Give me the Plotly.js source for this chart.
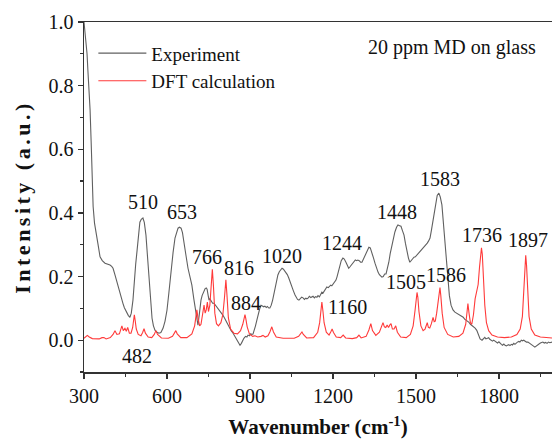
<!DOCTYPE html>
<html>
<head>
<meta charset="utf-8">
<script src="https://cdn.plot.ly/plotly-3.0.1.min.js"></script>
<style>
html,body{margin:0;padding:0;background:#fff;overflow:hidden}
.ytitle{letter-spacing:3.5px}
</style>
</head>
<body>
<div id="chart" style="width:552px;height:440px"></div>
<script>
// Experiment spectrum
const expX = [
  300,303,307,311,314,318,322,326,329,333,
  338,343,350,358,366,376,385,394,400,405,
  412,418,423,430,436,441,446,451,455,460,
  466,471,477,482,487,492,497,502,507,513,
  518,524,529,535,540,546,551,557,564,571,
  578,586,593,600,607,614,622,629,635,640,
  645,651,656,661,668,676,683,690,697,705,
  709,712,716,720,723,727,731,734,738,742,
  745,749,752,755,760,765,770,777,784,790,
  796,802,808,814,820,826,832,839,846,853,
  858,864,869,874,878,884,889,893,898,903,
  907,911,916,920,925,930,935,940,945,950,
  954,959,963,968,972,977,982,987,992,996,
  1001,1006,1011,1016,1021,1026,1030,1035,1040,1045,
  1051,1057,1063,1068,1072,1077,1082,1087,1092,1097,
  1102,1106,1110,1115,1120,1124,1128,1133,1137,1142,
  1146,1151,1156,1160,1164,1169,1173,1178,1183,1188,
  1192,1196,1201,1205,1211,1215,1220,1225,1230,1236,
  1241,1247,1252,1257,1261,1266,1271,1276,1281,1286,
  1290,1295,1300,1305,1310,1315,1319,1325,1330,1335,
  1341,1346,1352,1357,1363,1368,1373,1377,1382,1387,
  1392,1397,1402,1407,1413,1418,1424,1430,1435,1441,
  1446,1451,1457,1462,1467,1473,1478,1483,1488,1493,
  1498,1502,1507,1512,1517,1522,1527,1531,1536,1541,
  1546,1551,1556,1561,1566,1572,1577,1583,1588,1594,
  1599,1605,1610,1616,1621,1627,1634,1641,1648,1654,
  1659,1665,1671,1676,1681,1687,1692,1697,1702,1708,
  1714,1720,1726,1732,1739,1745,1749,1753,1758,1763,
  1767,1772,1777,1781,1786,1791,1795,1800,1804,1809,
  1813,1818,1822,1827,1831,1836,1840,1845,1849,1854,
  1858,1863,1867,1872,1876,1881,1885,1890,1895,1900,
  1905,1910,1914,1919,1924,1930,1935,1940,1945,1950,
  1955,1959,1964,1969,1974,1979,1984,1988,1992];
const expY = [
  1.000,0.975,0.943,0.900,0.849,0.790,0.723,0.620,0.503,0.420,
  0.368,0.346,0.305,0.262,0.250,0.242,0.240,0.236,0.232,0.226,
  0.205,0.185,0.173,0.150,0.128,0.115,0.102,0.092,0.085,0.078,
  0.072,0.085,0.126,0.190,0.240,0.283,0.335,0.371,0.380,0.384,
  0.370,0.330,0.270,0.189,0.120,0.069,0.045,0.031,0.025,0.022,
  0.024,0.038,0.060,0.094,0.150,0.220,0.275,0.321,0.342,0.352,
  0.355,0.352,0.338,0.314,0.270,0.226,0.200,0.173,0.130,0.079,
  0.058,0.047,0.075,0.110,0.126,0.140,0.150,0.157,0.162,0.164,
  0.160,0.140,0.126,0.130,0.122,0.116,0.116,0.108,0.101,0.095,
  0.088,0.079,0.070,0.060,0.047,0.038,0.030,0.022,0.012,0.000,
  -0.008,-0.016,-0.010,0.000,0.006,0.012,0.010,0.016,0.014,0.020,
  0.018,0.019,0.030,0.045,0.063,0.085,0.098,0.110,0.108,0.105,
  0.107,0.103,0.106,0.101,0.101,0.110,0.126,0.150,0.170,0.189,
  0.205,0.215,0.222,0.226,0.223,0.218,0.214,0.206,0.196,0.182,
  0.168,0.155,0.142,0.135,0.128,0.126,0.130,0.135,0.133,0.128,
  0.132,0.130,0.132,0.138,0.134,0.136,0.138,0.133,0.137,0.135,
  0.140,0.136,0.145,0.151,0.148,0.155,0.160,0.167,0.165,0.170,
  0.173,0.171,0.178,0.182,0.189,0.200,0.215,0.236,0.250,0.258,
  0.255,0.245,0.236,0.226,0.230,0.236,0.242,0.246,0.252,0.250,
  0.252,0.250,0.245,0.245,0.255,0.265,0.274,0.285,0.292,0.290,
  0.277,0.260,0.242,0.228,0.214,0.206,0.200,0.198,0.200,0.208,
  0.208,0.225,0.245,0.272,0.299,0.322,0.340,0.355,0.362,0.360,
  0.358,0.345,0.330,0.305,0.277,0.258,0.245,0.250,0.256,0.261,
  0.262,0.266,0.270,0.274,0.280,0.283,0.290,0.293,0.299,0.305,
  0.312,0.321,0.345,0.371,0.405,0.440,0.455,0.462,0.450,0.425,
  0.370,0.299,0.235,0.173,0.140,0.110,0.095,0.088,0.084,0.080,
  0.079,0.075,0.072,0.066,0.063,0.058,0.056,0.050,0.047,0.042,
  0.038,0.031,0.018,0.004,0.000,0.006,0.009,0.004,0.006,0.008,
  0.003,0.001,-0.003,0.000,-0.003,-0.006,-0.009,-0.005,-0.010,-0.013,
  -0.016,-0.012,-0.016,-0.018,-0.016,-0.014,-0.017,-0.013,-0.015,-0.010,
  -0.013,-0.008,-0.006,-0.004,-0.006,0.000,-0.002,0.000,-0.004,-0.006,
  -0.006,-0.010,-0.013,-0.016,-0.018,-0.022,-0.018,-0.013,-0.012,-0.009,
  -0.008,-0.006,-0.009,-0.007,-0.010,-0.006,-0.008,-0.007,-0.006];

// DFT calculated spectrum
const dftX = [
  300,305,312,319,330,355,365,372,380,395,
  405,412,419,428,437,442,448,453,458,464,
  470,476,479,482,485,489,496,506,512,517,
  522,532,545,554,560,566,580,605,620,627,
  632,637,650,672,690,700,705,708,712,718,
  723,729,734,738,742,746,750,755,760,764,
  768,773,779,786,795,802,808,813,817,822,
  830,842,855,866,874,879,882,885,890,898,
  910,918,928,940,947,955,965,972,979,985,
  995,1020,1060,1076,1083,1088,1093,1105,1130,1145,
  1152,1156,1160,1164,1168,1176,1186,1192,1197,1202,
  1212,1228,1237,1246,1270,1286,1294,1302,1320,1330,
  1337,1343,1355,1368,1376,1381,1386,1391,1396,1401,
  1406,1410,1415,1421,1427,1433,1445,1465,1480,1490,
  1497,1501,1504,1507,1511,1518,1526,1533,1538,1541,
  1545,1550,1556,1562,1566,1570,1575,1580,1584,1587,
  1590,1595,1602,1615,1635,1655,1670,1680,1685,1688,
  1692,1697,1702,1708,1714,1720,1725,1730,1734,1737,
  1740,1744,1749,1755,1763,1775,1795,1820,1845,1865,
  1877,1885,1890,1894,1897,1900,1904,1909,1917,1930,
  1950,1975,1992];
const dftY = [
  0.006,0.010,0.015,0.010,0.005,0.004,0.008,0.008,0.004,0.008,
  0.018,0.030,0.018,0.020,0.045,0.030,0.037,0.028,0.040,0.022,
  0.022,0.040,0.062,0.080,0.062,0.035,0.018,0.014,0.024,0.036,
  0.022,0.010,0.008,0.018,0.030,0.018,0.007,0.006,0.012,0.022,
  0.030,0.020,0.008,0.008,0.020,0.045,0.080,0.095,0.070,0.045,
  0.050,0.080,0.110,0.085,0.095,0.120,0.090,0.110,0.175,0.223,
  0.170,0.085,0.052,0.045,0.055,0.080,0.135,0.190,0.140,0.070,
  0.035,0.022,0.020,0.030,0.050,0.068,0.080,0.068,0.042,0.020,
  0.012,0.014,0.010,0.012,0.015,0.010,0.014,0.026,0.042,0.026,
  0.010,0.006,0.006,0.012,0.022,0.026,0.018,0.007,0.008,0.025,
  0.055,0.090,0.120,0.090,0.055,0.025,0.016,0.026,0.035,0.024,
  0.010,0.008,0.016,0.007,0.005,0.008,0.016,0.007,0.012,0.032,
  0.052,0.030,0.015,0.025,0.045,0.055,0.042,0.040,0.048,0.040,
  0.048,0.052,0.035,0.035,0.045,0.025,0.010,0.008,0.018,0.045,
  0.095,0.135,0.150,0.135,0.090,0.045,0.030,0.035,0.050,0.055,
  0.040,0.038,0.052,0.072,0.058,0.060,0.085,0.125,0.160,0.165,
  0.140,0.085,0.040,0.018,0.010,0.012,0.022,0.050,0.090,0.115,
  0.085,0.055,0.050,0.080,0.130,0.160,0.175,0.230,0.280,0.290,
  0.270,0.200,0.110,0.055,0.030,0.016,0.010,0.008,0.010,0.018,
  0.035,0.075,0.150,0.235,0.267,0.235,0.150,0.075,0.035,0.016,
  0.010,0.008,0.007];

// Peak labels
const labelText = ['510','653','766','816','884','1020','482','1244','1448','1583','1736','1897','1505','1586','1160'];
const labelX = [513,654,745,860,886,1016,492,1233,1431,1587,1738,1905,1464,1608,1251];
const labelY = [0.434,0.403,0.261,0.226,0.116,0.264,-0.050,0.305,0.403,0.506,0.330,0.314,0.182,0.204,0.104];

const FONT = 'Liberation Serif, Times New Roman, serif';

const traces = [
  {x: expX, y: expY, type: 'scatter', mode: 'lines', name: 'Experiment',
   line: {color: '#606060', width: 1.1}},
  {x: dftX, y: dftY, type: 'scatter', mode: 'lines', name: 'DFT calculation',
   line: {color: '#ff3a3a', width: 1.1}}
];

const annotations = labelText.map((t, i) => ({
  text: t, x: labelX[i], y: labelY[i], xref: 'x', yref: 'y',
  xanchor: 'center', yanchor: 'middle',
  showarrow: false, font: {family: FONT, size: 20, color: '#111'}
}));
annotations.push({
  text: '20 ppm MD on glass', xref: 'paper', yref: 'paper',
  x: 0.787, y: 0.926, xanchor: 'center', yanchor: 'middle',
  showarrow: false, font: {family: FONT, size: 20, color: '#111'}
});

const axisCommon = {
  showline: true, linecolor: '#333', linewidth: 1.5, showgrid: false, zeroline: false,
  ticks: 'outside', ticklen: 5, tickwidth: 1.3, tickcolor: '#333',
  tickfont: {family: FONT, size: 20, color: '#111'}
};

const layout = {
  width: 552, height: 440,
  margin: {l: 84, r: 0, t: 22, b: 68},
  paper_bgcolor: '#fff', plot_bgcolor: '#fff',
  font: {family: FONT, size: 20, color: '#111'},
  showlegend: true,
  legend: {x: 0.02, y: 0.965, xanchor: 'left', yanchor: 'top', bgcolor: 'rgba(0,0,0,0)',
           font: {family: FONT, size: 19, color: '#111'}, itemwidth: 48, tracegroupgap: 0},
  xaxis: Object.assign({}, axisCommon, {
    range: [300, 1992], tick0: 300, dtick: 300, mirror: true,
    minor: {dtick: 150, ticks: 'outside', ticklen: 3, tickcolor: '#333', tickwidth: 1.2},
    title: {text: '<b>Wavenumber (cm<sup>-1</sup>)</b>', font: {family: FONT, size: 21, color: '#111'}, standoff: 14}
  }),
  yaxis: Object.assign({}, axisCommon, {
    range: [-0.1, 1.0], tick0: 0, dtick: 0.2, tickformat: '.1f', mirror: false,
    minor: {dtick: 0.1, ticks: 'outside', ticklen: 3, tickcolor: '#333', tickwidth: 1.2},
    title: {text: '<b>Intensity (a.u.)</b>', font: {family: FONT, size: 22, color: '#111'}, standoff: 12}
  }),
  annotations: annotations
};

Plotly.newPlot('chart', traces, layout, {displayModeBar: false, staticPlot: true});
</script>
</body>
</html>
